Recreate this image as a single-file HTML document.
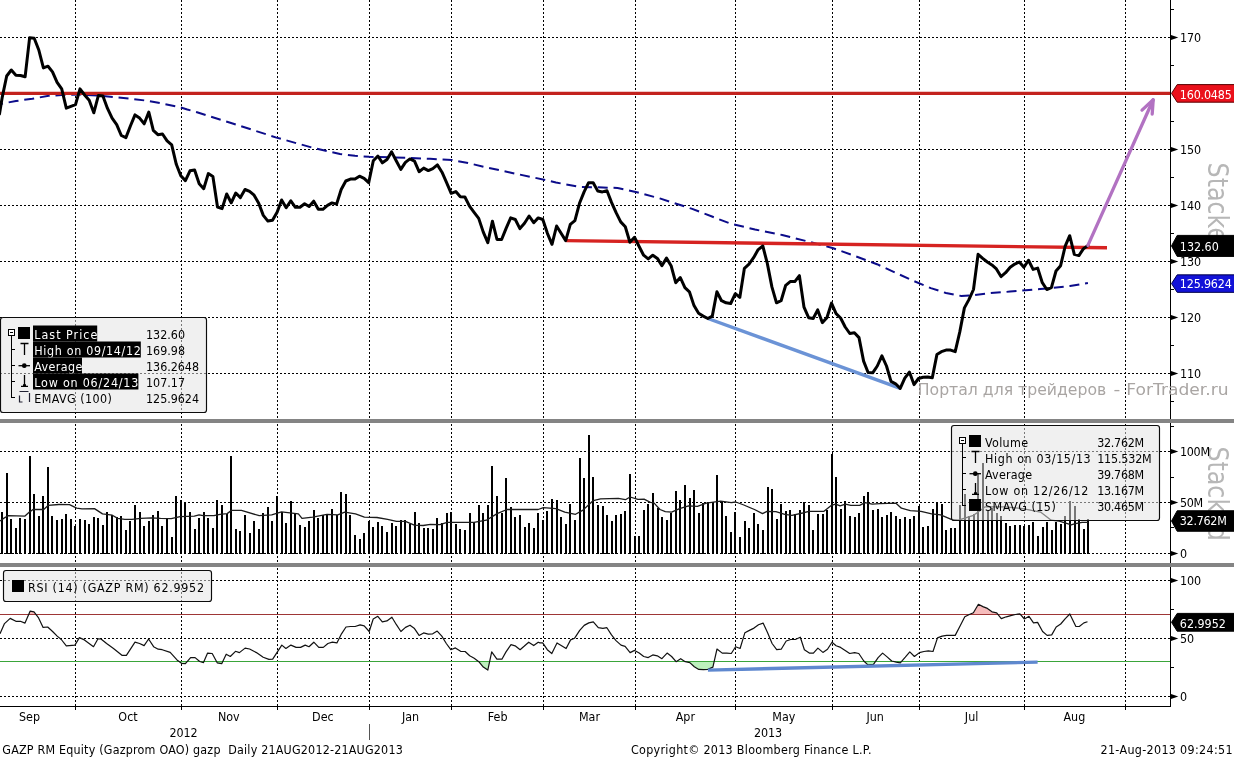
<!DOCTYPE html>
<html lang="en"><head><meta charset="utf-8"><title>GAZP RM Equity</title>
<style>html,body{margin:0;padding:0;background:#fff}body{width:1234px;height:758px;overflow:hidden}svg{display:block}text{font-family:'DejaVu Sans Condensed', 'Liberation Sans', sans-serif;white-space:pre}</style>
</head><body>
<svg width="1234" height="758" viewBox="0 0 1234 758">
<rect width="1234" height="758" fill="#fff"/>
<g stroke="#000" stroke-width="1" stroke-dasharray="2 2" shape-rendering="crispEdges">
<line x1="75.5" y1="0" x2="75.5" y2="706"/>
<line x1="181.5" y1="0" x2="181.5" y2="706"/>
<line x1="277.5" y1="0" x2="277.5" y2="706"/>
<line x1="369.5" y1="0" x2="369.5" y2="706"/>
<line x1="451.5" y1="0" x2="451.5" y2="706"/>
<line x1="543.5" y1="0" x2="543.5" y2="706"/>
<line x1="635.5" y1="0" x2="635.5" y2="706"/>
<line x1="735.5" y1="0" x2="735.5" y2="706"/>
<line x1="832.5" y1="0" x2="832.5" y2="706"/>
<line x1="919.5" y1="0" x2="919.5" y2="706"/>
<line x1="1024.5" y1="0" x2="1024.5" y2="706"/>
<line x1="1125.5" y1="0" x2="1125.5" y2="706"/>
<line x1="0" y1="37.5" x2="1170.5" y2="37.5"/>
<line x1="0" y1="149.5" x2="1170.5" y2="149.5"/>
<line x1="0" y1="205.5" x2="1170.5" y2="205.5"/>
<line x1="0" y1="261.5" x2="1170.5" y2="261.5"/>
<line x1="0" y1="317.5" x2="1170.5" y2="317.5"/>
<line x1="0" y1="373.5" x2="1170.5" y2="373.5"/>
<line x1="0" y1="451.5" x2="1170.5" y2="451.5"/>
<line x1="0" y1="502.5" x2="1170.5" y2="502.5"/>
<line x1="0" y1="553.5" x2="1170.5" y2="553.5"/>
<line x1="0" y1="580.5" x2="1170.5" y2="580.5"/>
<line x1="0" y1="638.5" x2="1170.5" y2="638.5"/>
<line x1="0" y1="696.5" x2="1170.5" y2="696.5"/>
</g>
<text transform="translate(1208.3 162.6) rotate(90)" font-size="27.5" fill="#b7b7b7" textLength="94.5" lengthAdjust="spacingAndGlyphs">Stacked</text>
<text transform="translate(1208.3 446.4) rotate(90)" font-size="27.5" fill="#b7b7b7" textLength="94.5" lengthAdjust="spacingAndGlyphs">Stacked</text>
<g fill="#000" shape-rendering="crispEdges">
<rect x="1" y="512" width="2" height="42"/>
<rect x="6" y="473" width="2" height="81"/>
<rect x="10" y="519" width="2" height="35"/>
<rect x="15" y="528" width="2" height="26"/>
<rect x="19" y="518" width="2" height="36"/>
<rect x="24" y="519" width="2" height="35"/>
<rect x="29" y="456" width="2" height="98"/>
<rect x="33" y="494" width="2" height="60"/>
<rect x="38" y="516" width="2" height="38"/>
<rect x="42" y="496" width="2" height="58"/>
<rect x="47" y="467" width="2" height="87"/>
<rect x="51" y="516" width="2" height="38"/>
<rect x="56" y="520" width="2" height="34"/>
<rect x="61" y="519" width="2" height="35"/>
<rect x="65" y="514" width="2" height="40"/>
<rect x="70" y="519" width="2" height="35"/>
<rect x="74" y="526" width="2" height="28"/>
<rect x="79" y="519" width="2" height="35"/>
<rect x="84" y="520" width="2" height="34"/>
<rect x="88" y="524" width="2" height="30"/>
<rect x="93" y="517" width="2" height="37"/>
<rect x="97" y="518" width="2" height="36"/>
<rect x="102" y="525" width="2" height="29"/>
<rect x="106" y="512" width="2" height="42"/>
<rect x="111" y="515" width="2" height="39"/>
<rect x="116" y="517" width="2" height="37"/>
<rect x="120" y="516" width="2" height="38"/>
<rect x="125" y="530" width="2" height="24"/>
<rect x="129" y="521" width="2" height="33"/>
<rect x="134" y="505" width="2" height="49"/>
<rect x="139" y="512" width="2" height="42"/>
<rect x="143" y="526" width="2" height="28"/>
<rect x="148" y="521" width="2" height="33"/>
<rect x="152" y="515" width="2" height="39"/>
<rect x="157" y="511" width="2" height="43"/>
<rect x="161" y="526" width="2" height="28"/>
<rect x="166" y="519" width="2" height="35"/>
<rect x="171" y="537" width="2" height="17"/>
<rect x="175" y="496" width="2" height="58"/>
<rect x="180" y="500" width="2" height="54"/>
<rect x="184" y="502" width="2" height="52"/>
<rect x="189" y="512" width="2" height="42"/>
<rect x="194" y="529" width="2" height="25"/>
<rect x="198" y="518" width="2" height="36"/>
<rect x="203" y="512" width="2" height="42"/>
<rect x="207" y="518" width="2" height="36"/>
<rect x="212" y="528" width="2" height="26"/>
<rect x="216" y="500" width="2" height="54"/>
<rect x="221" y="505" width="2" height="49"/>
<rect x="226" y="514" width="2" height="40"/>
<rect x="230" y="456" width="2" height="98"/>
<rect x="235" y="529" width="2" height="25"/>
<rect x="239" y="531" width="2" height="23"/>
<rect x="244" y="515" width="2" height="39"/>
<rect x="249" y="533" width="2" height="21"/>
<rect x="253" y="521" width="2" height="33"/>
<rect x="258" y="529" width="2" height="25"/>
<rect x="262" y="513" width="2" height="41"/>
<rect x="267" y="507" width="2" height="47"/>
<rect x="271" y="521" width="2" height="33"/>
<rect x="276" y="496" width="2" height="58"/>
<rect x="281" y="512" width="2" height="42"/>
<rect x="285" y="523" width="2" height="31"/>
<rect x="290" y="501" width="2" height="53"/>
<rect x="294" y="514" width="2" height="40"/>
<rect x="299" y="525" width="2" height="29"/>
<rect x="304" y="527" width="2" height="27"/>
<rect x="308" y="521" width="2" height="33"/>
<rect x="313" y="510" width="2" height="44"/>
<rect x="317" y="518" width="2" height="36"/>
<rect x="322" y="515" width="2" height="39"/>
<rect x="326" y="514" width="2" height="40"/>
<rect x="331" y="509" width="2" height="45"/>
<rect x="336" y="515" width="2" height="39"/>
<rect x="340" y="492" width="2" height="62"/>
<rect x="345" y="494" width="2" height="60"/>
<rect x="349" y="515" width="2" height="39"/>
<rect x="354" y="535" width="2" height="19"/>
<rect x="359" y="539" width="2" height="15"/>
<rect x="363" y="533" width="2" height="21"/>
<rect x="368" y="521" width="2" height="33"/>
<rect x="372" y="527" width="2" height="27"/>
<rect x="377" y="522" width="2" height="32"/>
<rect x="381" y="526" width="2" height="28"/>
<rect x="386" y="532" width="2" height="22"/>
<rect x="391" y="523" width="2" height="31"/>
<rect x="395" y="526" width="2" height="28"/>
<rect x="400" y="520" width="2" height="34"/>
<rect x="404" y="520" width="2" height="34"/>
<rect x="409" y="524" width="2" height="30"/>
<rect x="414" y="512" width="2" height="42"/>
<rect x="418" y="523" width="2" height="31"/>
<rect x="423" y="528" width="2" height="26"/>
<rect x="427" y="528" width="2" height="26"/>
<rect x="432" y="529" width="2" height="25"/>
<rect x="436" y="518" width="2" height="36"/>
<rect x="441" y="523" width="2" height="31"/>
<rect x="446" y="513" width="2" height="41"/>
<rect x="450" y="512" width="2" height="42"/>
<rect x="455" y="524" width="2" height="30"/>
<rect x="459" y="529" width="2" height="25"/>
<rect x="464" y="530" width="2" height="24"/>
<rect x="469" y="513" width="2" height="41"/>
<rect x="473" y="522" width="2" height="32"/>
<rect x="478" y="505" width="2" height="49"/>
<rect x="482" y="513" width="2" height="41"/>
<rect x="487" y="505" width="2" height="49"/>
<rect x="491" y="466" width="2" height="88"/>
<rect x="496" y="496" width="2" height="58"/>
<rect x="501" y="513" width="2" height="41"/>
<rect x="505" y="478" width="2" height="76"/>
<rect x="510" y="507" width="2" height="47"/>
<rect x="514" y="517" width="2" height="37"/>
<rect x="519" y="515" width="2" height="39"/>
<rect x="524" y="527" width="2" height="27"/>
<rect x="528" y="523" width="2" height="31"/>
<rect x="533" y="528" width="2" height="26"/>
<rect x="537" y="513" width="2" height="41"/>
<rect x="542" y="520" width="2" height="34"/>
<rect x="546" y="511" width="2" height="43"/>
<rect x="551" y="499" width="2" height="55"/>
<rect x="556" y="500" width="2" height="54"/>
<rect x="560" y="517" width="2" height="37"/>
<rect x="565" y="524" width="2" height="30"/>
<rect x="569" y="504" width="2" height="50"/>
<rect x="574" y="520" width="2" height="34"/>
<rect x="579" y="458" width="2" height="96"/>
<rect x="583" y="478" width="2" height="76"/>
<rect x="588" y="435" width="2" height="119"/>
<rect x="592" y="477" width="2" height="77"/>
<rect x="597" y="505" width="2" height="49"/>
<rect x="602" y="506" width="2" height="48"/>
<rect x="606" y="515" width="2" height="39"/>
<rect x="611" y="521" width="2" height="33"/>
<rect x="615" y="515" width="2" height="39"/>
<rect x="620" y="514" width="2" height="40"/>
<rect x="624" y="511" width="2" height="43"/>
<rect x="629" y="474" width="2" height="80"/>
<rect x="634" y="536" width="2" height="18"/>
<rect x="638" y="536" width="2" height="18"/>
<rect x="643" y="510" width="2" height="44"/>
<rect x="647" y="504" width="2" height="50"/>
<rect x="652" y="493" width="2" height="61"/>
<rect x="657" y="508" width="2" height="46"/>
<rect x="661" y="517" width="2" height="37"/>
<rect x="666" y="520" width="2" height="34"/>
<rect x="670" y="513" width="2" height="41"/>
<rect x="675" y="491" width="2" height="63"/>
<rect x="679" y="500" width="2" height="54"/>
<rect x="684" y="485" width="2" height="69"/>
<rect x="689" y="498" width="2" height="56"/>
<rect x="693" y="490" width="2" height="64"/>
<rect x="698" y="513" width="2" height="41"/>
<rect x="702" y="503" width="2" height="51"/>
<rect x="707" y="502" width="2" height="52"/>
<rect x="712" y="502" width="2" height="52"/>
<rect x="716" y="475" width="2" height="79"/>
<rect x="721" y="501" width="2" height="53"/>
<rect x="725" y="516" width="2" height="38"/>
<rect x="730" y="532" width="2" height="22"/>
<rect x="734" y="512" width="2" height="42"/>
<rect x="739" y="537" width="2" height="17"/>
<rect x="744" y="521" width="2" height="33"/>
<rect x="748" y="528" width="2" height="26"/>
<rect x="753" y="513" width="2" height="41"/>
<rect x="757" y="524" width="2" height="30"/>
<rect x="762" y="530" width="2" height="24"/>
<rect x="767" y="487" width="2" height="67"/>
<rect x="771" y="489" width="2" height="65"/>
<rect x="776" y="519" width="2" height="35"/>
<rect x="780" y="504" width="2" height="50"/>
<rect x="785" y="511" width="2" height="43"/>
<rect x="789" y="510" width="2" height="44"/>
<rect x="794" y="514" width="2" height="40"/>
<rect x="799" y="510" width="2" height="44"/>
<rect x="803" y="502" width="2" height="52"/>
<rect x="808" y="505" width="2" height="49"/>
<rect x="812" y="530" width="2" height="24"/>
<rect x="817" y="514" width="2" height="40"/>
<rect x="822" y="514" width="2" height="40"/>
<rect x="826" y="510" width="2" height="44"/>
<rect x="831" y="454" width="2" height="100"/>
<rect x="835" y="477" width="2" height="77"/>
<rect x="840" y="509" width="2" height="45"/>
<rect x="844" y="501" width="2" height="53"/>
<rect x="849" y="516" width="2" height="38"/>
<rect x="854" y="517" width="2" height="37"/>
<rect x="858" y="513" width="2" height="41"/>
<rect x="863" y="496" width="2" height="58"/>
<rect x="867" y="492" width="2" height="62"/>
<rect x="872" y="510" width="2" height="44"/>
<rect x="877" y="509" width="2" height="45"/>
<rect x="881" y="517" width="2" height="37"/>
<rect x="886" y="515" width="2" height="39"/>
<rect x="890" y="512" width="2" height="42"/>
<rect x="895" y="516" width="2" height="38"/>
<rect x="899" y="519" width="2" height="35"/>
<rect x="904" y="517" width="2" height="37"/>
<rect x="909" y="519" width="2" height="35"/>
<rect x="913" y="516" width="2" height="38"/>
<rect x="918" y="506" width="2" height="48"/>
<rect x="922" y="527" width="2" height="27"/>
<rect x="927" y="526" width="2" height="28"/>
<rect x="932" y="509" width="2" height="45"/>
<rect x="936" y="502" width="2" height="52"/>
<rect x="941" y="504" width="2" height="50"/>
<rect x="945" y="530" width="2" height="24"/>
<rect x="950" y="528" width="2" height="26"/>
<rect x="954" y="528" width="2" height="26"/>
<rect x="959" y="505" width="2" height="49"/>
<rect x="964" y="494" width="2" height="60"/>
<rect x="968" y="516" width="2" height="38"/>
<rect x="973" y="514" width="2" height="40"/>
<rect x="977" y="473" width="2" height="81"/>
<rect x="982" y="463" width="2" height="91"/>
<rect x="987" y="510" width="2" height="44"/>
<rect x="991" y="508" width="2" height="46"/>
<rect x="996" y="513" width="2" height="41"/>
<rect x="1000" y="516" width="2" height="38"/>
<rect x="1005" y="523" width="2" height="31"/>
<rect x="1009" y="526" width="2" height="28"/>
<rect x="1014" y="525" width="2" height="29"/>
<rect x="1019" y="525" width="2" height="29"/>
<rect x="1023" y="526" width="2" height="28"/>
<rect x="1028" y="525" width="2" height="29"/>
<rect x="1032" y="522" width="2" height="32"/>
<rect x="1037" y="536" width="2" height="18"/>
<rect x="1042" y="527" width="2" height="27"/>
<rect x="1046" y="522" width="2" height="32"/>
<rect x="1051" y="530" width="2" height="24"/>
<rect x="1055" y="522" width="2" height="32"/>
<rect x="1060" y="524" width="2" height="30"/>
<rect x="1064" y="516" width="2" height="38"/>
<rect x="1069" y="501" width="2" height="53"/>
<rect x="1074" y="506" width="2" height="48"/>
<rect x="1078" y="519" width="2" height="35"/>
<rect x="1083" y="529" width="2" height="25"/>
<rect x="1087" y="519" width="2" height="35"/>
</g>
<path d="M0.0 521.1 L3.6 518.4 L8.0 515.7 L25.0 516.1 L29.4 512.1 L33.0 509.5 L43.7 509.5 L48.1 505.4 L58.8 504.5 L69.5 504.7 L76.7 508.2 L82.0 508.9 L94.5 508.6 L102.5 513.9 L112.3 515.2 L117.7 518.4 L124.8 519.3 L131.9 519.3 L140.8 518.4 L151.5 517.8 L160.5 518.4 L171.2 518.7 L180.1 516.6 L194.3 516.1 L199.1 514.8 L203.2 515.7 L213.9 515.7 L220.0 514.3 L227.1 513.6 L231.6 510.4 L241.4 510.4 L259.2 515.7 L271.7 514.8 L281.5 511.8 L298.4 513.9 L302.0 518.4 L312.7 517.1 L327.0 514.3 L337.7 514.8 L344.8 512.1 L355.5 513.9 L364.4 517.1 L376.9 517.5 L387.6 519.3 L396.5 521.4 L405.4 521.4 L414.3 525.2 L423.2 525.5 L430.4 524.3 L440.0 524.6 L447.1 522.3 L473.9 522.3 L486.4 520.2 L497.1 513.6 L506.9 509.5 L538.1 509.5 L543.4 507.7 L555.9 508.6 L564.8 512.1 L575.5 514.3 L582.6 510.4 L593.3 500.6 L600.5 498.8 L618.3 498.4 L625.4 499.7 L630.1 497.0 L637.9 499.3 L644.1 499.1 L650.4 502.3 L653.9 502.9 L660.0 509.5 L665.3 511.6 L671.6 512.1 L679.6 508.6 L688.5 505.9 L697.4 506.4 L706.4 503.2 L720.6 501.1 L731.3 502.7 L735.8 502.0 L743.8 505.0 L754.5 509.5 L762.5 513.6 L767.0 511.3 L775.9 511.6 L784.8 514.3 L791.9 515.4 L802.6 513.0 L808.9 511.3 L824.0 511.3 L831.2 505.4 L835.6 504.1 L840.1 505.9 L845.4 504.1 L850.8 505.4 L859.7 505.4 L865.0 502.7 L872.2 504.1 L880.0 503.6 L896.0 503.2 L901.4 508.2 L910.3 510.7 L921.0 511.3 L931.7 513.9 L940.6 514.8 L951.3 519.3 L958.4 520.2 L972.7 515.7 L978.1 512.1 L985.2 506.8 L1004.8 506.8 L1022.6 508.6 L1040.5 512.1 L1051.2 520.2 L1059.2 521.2 L1067.4 523.6 L1071.3 524.8 L1074.3 523.9 L1082.0 522.3 L1088.1 522.3" fill="none" stroke="#1c1c1c" stroke-width="1.3" stroke-linejoin="round"/>
<polygon points="28.7,614.5 30.2,611.1 34.0,611.8 36.1,614.5" fill="#f6bcbc"/>
<polygon points="969.3,614.5 969.3,614.5 973.4,612.7 978.4,604.3 982.9,606.6 987.4,608.4 992.0,611.8 996.7,612.9 998.0,614.5" fill="#f6bcbc"/>
<polygon points="1015.3,614.5 1015.4,614.5 1019.9,613.8 1020.5,614.5" fill="#f6bcbc"/>
<polygon points="1069.4,614.5 1069.8,614.0 1070.0,614.5" fill="#f6bcbc"/>
<polygon points="179.1,661.5 181.5,663.3 185.4,663.7 187.3,661.5" fill="#bdf0bd"/>
<polygon points="199.8,661.5 203.5,662.6 204.0,661.5" fill="#bdf0bd"/>
<polygon points="216.4,661.5 217.2,662.8 221.7,663.7 222.8,661.5" fill="#bdf0bd"/>
<polygon points="478.5,661.5 478.8,661.7 483.3,667.1 487.8,670.1 489.7,661.5" fill="#bdf0bd"/>
<polygon points="676.0,661.5 676.1,661.7 676.4,661.5" fill="#bdf0bd"/>
<polygon points="684.9,661.5 685.2,661.7 689.8,662.6 694.3,666.7 698.8,669.4 703.4,669.6 707.9,669.4 712.9,667.1 714.2,661.5" fill="#bdf0bd"/>
<polygon points="864.3,661.5 867.9,664.9 873.5,664.4 875.5,661.5" fill="#bdf0bd"/>
<polygon points="893.6,661.5 896.2,662.1 900.3,662.8 901.5,661.5" fill="#bdf0bd"/>
<line x1="0" y1="614.5" x2="1170.5" y2="614.5" stroke="#9e3636" stroke-width="1" shape-rendering="crispEdges"/>
<line x1="0" y1="661.5" x2="1170.5" y2="661.5" stroke="#3aa53a" stroke-width="1" shape-rendering="crispEdges"/>
<path d="M0.0 633.8 L4.5 623.6 L10.2 618.4 L15.9 621.3 L20.4 621.3 L25.0 623.1 L30.2 611.1 L34.0 611.8 L38.6 617.9 L43.1 627.4 L47.7 627.0 L52.6 631.5 L57.2 636.1 L61.3 639.5 L66.3 645.8 L74.9 645.1 L79.4 637.6 L84.4 639.9 L93.5 646.7 L98.0 638.8 L101.0 639.0 L106.6 643.5 L113.5 648.5 L121.9 655.3 L126.4 655.3 L135.0 642.2 L139.6 643.5 L144.1 645.6 L148.6 639.0 L153.6 646.7 L158.2 649.2 L162.2 649.7 L170.2 652.4 L177.0 659.9 L181.5 663.3 L185.4 663.7 L190.6 657.6 L195.1 657.6 L199.7 661.5 L203.5 662.6 L207.6 653.1 L212.2 653.5 L217.2 662.8 L221.7 663.7 L226.2 654.2 L230.3 656.5 L235.5 651.3 L239.4 652.6 L245.1 648.1 L249.6 649.0 L256.4 652.6 L263.2 657.2 L268.9 659.4 L272.7 659.2 L281.8 645.1 L285.9 648.5 L290.9 645.1 L296.1 647.4 L300.6 647.4 L305.2 645.1 L309.0 646.7 L313.8 642.2 L318.8 647.4 L323.3 647.4 L327.9 643.5 L332.4 642.2 L336.9 642.9 L341.5 633.8 L346.0 627.0 L350.6 626.5 L355.1 626.5 L360.1 624.9 L364.2 625.8 L369.2 631.5 L373.2 619.0 L377.8 616.3 L382.3 621.8 L386.9 620.9 L391.9 617.2 L396.4 624.7 L400.9 631.5 L405.5 627.4 L410.0 625.2 L414.5 628.6 L419.1 635.4 L423.6 632.9 L428.2 634.2 L432.7 633.8 L437.2 631.1 L441.8 636.1 L446.3 643.5 L450.8 649.7 L455.4 647.9 L460.6 651.3 L465.1 651.5 L469.7 655.8 L474.2 658.3 L478.8 661.7 L483.3 667.1 L487.8 670.1 L491.7 651.9 L496.9 659.2 L501.9 659.2 L506.0 651.9 L511.0 644.7 L515.1 645.8 L520.1 649.7 L524.1 646.3 L528.7 642.2 L533.7 645.6 L538.2 642.2 L540.0 642.9 L542.7 642.9 L547.3 649.7 L551.8 653.5 L557.0 642.9 L561.6 645.8 L566.1 648.5 L570.6 639.9 L574.5 638.3 L579.7 630.4 L584.2 625.4 L588.8 622.9 L593.3 621.8 L598.3 627.7 L602.9 628.3 L606.9 627.7 L611.5 634.9 L616.0 640.6 L621.0 645.1 L625.1 646.3 L630.1 652.6 L634.6 650.4 L639.2 653.1 L643.7 656.5 L648.2 657.6 L652.8 654.9 L657.3 655.8 L661.9 658.7 L667.1 653.1 L671.6 656.5 L676.1 661.7 L680.7 658.7 L685.2 661.7 L689.8 662.6 L694.3 666.7 L698.8 669.4 L703.4 669.6 L707.9 669.4 L712.9 667.1 L717.0 649.0 L722.2 653.1 L726.7 653.1 L731.3 653.5 L735.6 646.7 L740.1 648.5 L744.9 632.7 L749.4 630.4 L754.0 628.1 L758.5 624.7 L763.1 623.1 L767.6 632.7 L772.1 643.5 L776.7 649.7 L781.2 649.2 L786.2 641.0 L790.7 639.5 L795.3 639.5 L800.3 637.2 L804.4 649.7 L809.3 653.1 L810.0 653.1 L813.4 653.1 L817.9 648.1 L822.9 652.4 L827.5 649.2 L832.0 642.2 L836.1 645.8 L840.6 647.4 L845.2 650.4 L849.7 653.5 L854.7 652.6 L858.8 653.5 L863.8 661.0 L867.9 664.9 L873.5 664.4 L878.1 657.6 L882.6 653.1 L887.1 656.9 L891.7 661.0 L896.2 662.1 L900.3 662.8 L905.3 657.2 L909.8 651.9 L914.4 656.5 L919.4 652.6 L923.9 651.5 L928.4 650.8 L933.0 651.5 L937.5 637.9 L942.1 636.1 L946.6 635.4 L951.1 635.4 L955.2 635.4 L960.2 625.8 L964.8 616.8 L969.3 614.5 L973.4 612.7 L978.4 604.3 L982.9 606.6 L987.4 608.4 L992.0 611.8 L996.7 612.9 L1001.3 618.6 L1006.3 616.8 L1010.8 615.6 L1015.4 614.5 L1019.9 613.8 L1024.4 619.0 L1029.0 616.3 L1033.5 622.9 L1037.6 622.4 L1042.6 631.5 L1047.1 635.4 L1051.7 634.9 L1056.2 627.0 L1060.7 624.0 L1065.3 618.6 L1069.8 614.0 L1075.9 626.5 L1079.3 626.5 L1083.9 622.9 L1087.5 621.8" fill="none" stroke="#111" stroke-width="1.2" stroke-linejoin="round"/>
<line x1="707.9" y1="670.1" x2="1037.6" y2="662.1" stroke="#5f88cf" stroke-width="3.4"/>
<path d="M0.0 104.0 L16.0 101.0 L32.4 98.7 L48.7 95.8 L65.0 94.8 L81.1 94.6 L97.0 95.5 L113.5 97.0 L130.0 98.6 L146.0 100.6 L162.0 103.5 L178.4 106.8 L187.3 109.5 L197.0 112.2 L231.1 123.0 L276.5 137.6 L312.2 147.6 L340.0 154.0 L355.0 155.8 L369.2 156.8 L390.0 157.2 L409.7 157.9 L430.0 158.8 L451.9 160.0 L468.0 163.0 L486.0 167.3 L510.0 172.5 L535.0 177.8 L556.0 182.5 L578.7 186.8 L598.0 187.3 L617.6 188.0 L638.0 192.5 L659.8 198.4 L692.2 208.9 L712.0 216.5 L730.0 223.5 L755.0 229.5 L782.2 235.0 L808.0 241.5 L832.5 248.0 L855.0 256.0 L877.0 264.2 L895.0 272.5 L911.4 280.0 L930.8 288.1 L946.0 293.0 L961.4 296.0 L975.0 295.0 L986.0 293.5 L1010.0 291.6 L1040.0 289.0 L1047.3 288.4 L1070.0 286.0 L1087.9 283.0" fill="none" stroke="#0c0c8a" stroke-width="2" stroke-dasharray="10 5.8" stroke-dashoffset="7" stroke-linejoin="round"/>
<line x1="0" y1="93.4" x2="1170.5" y2="93.4" stroke="#c3221d" stroke-width="3.2"/>
<line x1="566" y1="240.6" x2="1107" y2="247.8" stroke="#d62321" stroke-width="3.4"/>
<line x1="707.9" y1="318.5" x2="900.3" y2="388.4" stroke="#6b93d6" stroke-width="3.4"/>
<path d="M-0.5 114.1 L2.1 97.9 L6.7 76.0 L11.3 70.0 L15.9 75.2 L20.5 75.5 L25.1 76.8 L29.6 37.8 L34.2 38.2 L38.8 50.0 L43.4 67.9 L48.0 66.2 L52.5 71.9 L57.1 82.4 L61.7 88.9 L66.3 108.1 L70.9 106.3 L75.5 104.7 L80.0 88.9 L84.6 95.0 L89.2 100.3 L93.8 112.8 L98.4 95.4 L102.9 95.9 L107.5 108.4 L112.1 118.1 L116.7 124.6 L121.3 135.5 L125.9 137.6 L130.4 126.0 L135.0 114.9 L139.6 118.1 L144.2 123.8 L148.8 112.1 L153.3 130.3 L157.9 134.7 L162.5 134.0 L167.1 140.8 L171.7 144.9 L176.3 164.3 L180.8 175.7 L185.4 180.6 L190.0 170.8 L194.6 170.0 L199.2 183.8 L203.7 188.7 L208.3 173.6 L212.9 176.5 L217.5 207.0 L222.1 208.6 L226.7 194.0 L231.2 202.8 L235.8 193.0 L240.4 197.6 L245.0 189.5 L249.6 191.4 L254.1 195.2 L258.7 203.3 L263.3 215.4 L267.9 221.1 L272.5 220.3 L277.1 212.2 L281.6 200.0 L286.2 207.8 L290.8 200.8 L295.4 207.3 L300.0 207.3 L304.6 203.8 L309.1 206.5 L313.7 201.2 L318.3 209.3 L322.9 209.3 L327.5 205.4 L332.0 202.9 L336.6 204.1 L341.2 189.5 L345.8 181.0 L350.4 179.1 L355.0 179.1 L359.5 176.2 L364.1 178.3 L368.7 182.7 L373.3 160.8 L377.9 156.0 L382.4 162.8 L387.0 159.5 L391.6 151.9 L396.2 160.8 L400.8 169.4 L405.4 162.4 L409.9 158.9 L414.5 161.1 L419.1 171.7 L423.7 168.1 L428.3 170.6 L432.8 168.6 L437.4 164.9 L442.0 172.2 L446.6 182.7 L451.2 193.3 L455.8 191.6 L460.3 196.8 L464.9 197.0 L469.5 206.2 L474.1 212.4 L478.7 218.4 L483.2 231.9 L487.8 242.7 L492.4 221.2 L497.0 239.5 L501.6 239.5 L506.2 228.1 L510.7 217.9 L515.3 219.5 L519.9 228.6 L524.5 223.3 L529.1 216.0 L533.7 222.7 L538.2 217.9 L542.8 219.5 L547.4 233.3 L552.0 244.3 L556.6 226.0 L561.1 233.3 L565.7 240.6 L570.3 224.3 L574.9 220.6 L579.5 203.3 L584.1 191.9 L588.6 182.7 L593.2 182.7 L597.8 191.1 L602.4 191.9 L607.0 190.8 L611.5 202.4 L616.1 212.7 L620.7 221.9 L625.3 226.8 L629.9 242.2 L634.5 237.3 L639.0 246.2 L643.6 255.2 L648.2 258.9 L652.8 255.2 L657.4 258.4 L661.9 265.7 L666.5 258.1 L671.1 265.7 L675.7 282.7 L680.3 277.5 L684.9 287.7 L689.4 291.8 L694.0 305.6 L698.6 313.3 L703.2 316.1 L707.8 318.5 L712.3 316.1 L716.9 291.8 L721.5 300.7 L726.1 302.8 L730.7 303.5 L735.3 293.7 L739.8 297.4 L744.4 268.3 L749.0 264.2 L753.6 257.7 L758.2 249.6 L762.8 246.0 L767.3 263.4 L771.9 286.9 L776.5 302.8 L781.1 300.7 L785.7 285.3 L790.2 281.6 L794.8 281.6 L799.4 275.6 L804.0 307.2 L808.6 317.7 L813.2 318.5 L817.7 309.9 L822.3 322.6 L826.9 317.7 L831.5 303.1 L836.1 313.7 L840.6 318.0 L845.2 327.0 L849.8 333.5 L854.4 332.7 L859.0 337.6 L863.6 361.1 L868.1 372.5 L872.7 372.8 L877.3 366.0 L881.9 355.8 L886.5 366.0 L891.0 381.4 L895.6 383.8 L900.2 388.4 L904.8 378.1 L909.4 372.1 L914.0 384.6 L918.5 378.5 L923.1 377.3 L927.7 377.0 L932.3 377.8 L936.9 354.6 L941.4 351.7 L946.0 350.1 L950.6 350.1 L955.2 351.7 L959.8 331.9 L964.4 307.9 L968.9 299.6 L973.5 289.5 L978.1 254.3 L982.7 258.4 L987.3 262.0 L991.9 264.9 L996.4 268.9 L1001.0 276.6 L1005.6 272.7 L1010.2 267.3 L1014.8 264.1 L1019.3 262.0 L1023.9 267.3 L1028.5 260.3 L1033.1 269.4 L1037.7 268.1 L1042.3 282.7 L1046.8 289.5 L1051.4 287.6 L1056.0 271.0 L1060.6 265.7 L1065.2 246.2 L1069.7 235.7 L1074.3 254.3 L1078.9 255.6 L1083.5 248.7 L1088.1 245.4" fill="none" stroke="#000" stroke-width="3" stroke-linejoin="round" stroke-linecap="round"/>
<g stroke="#b272c2" stroke-width="3.3" fill="none" stroke-linecap="round" stroke-linejoin="round">
<path d="M1087.9 245.4 L1153.2 99.8"/><path d="M1142 110.1 L1153.2 99.8 L1152.2 114"/>
</g>
<g stroke="#000" stroke-width="1" shape-rendering="crispEdges">
<line x1="1170.5" y1="0" x2="1170.5" y2="706.5"/>
<line x1="0" y1="706.5" x2="1171.0" y2="706.5"/>
<line x1="1170.5" y1="9.5" x2="1174.0" y2="9.5"/>
<line x1="1170.5" y1="65.5" x2="1174.0" y2="65.5"/>
<line x1="1170.5" y1="121.5" x2="1174.0" y2="121.5"/>
<line x1="1170.5" y1="177.5" x2="1174.0" y2="177.5"/>
<line x1="1170.5" y1="233.5" x2="1174.0" y2="233.5"/>
<line x1="1170.5" y1="289.5" x2="1174.0" y2="289.5"/>
<line x1="1170.5" y1="345.5" x2="1174.0" y2="345.5"/>
<line x1="1170.5" y1="401.5" x2="1174.0" y2="401.5"/>
<line x1="1170.5" y1="426.5" x2="1174.0" y2="426.5"/>
<line x1="1170.5" y1="477.5" x2="1174.0" y2="477.5"/>
<line x1="1170.5" y1="527.5" x2="1174.0" y2="527.5"/>
<line x1="1170.5" y1="609.5" x2="1174.0" y2="609.5"/>
<line x1="1170.5" y1="667.5" x2="1174.0" y2="667.5"/>
<line x1="75.5" y1="706" x2="75.5" y2="710"/>
<line x1="181.5" y1="706" x2="181.5" y2="710"/>
<line x1="277.5" y1="706" x2="277.5" y2="710"/>
<line x1="369.5" y1="706" x2="369.5" y2="710"/>
<line x1="451.5" y1="706" x2="451.5" y2="710"/>
<line x1="543.5" y1="706" x2="543.5" y2="710"/>
<line x1="635.5" y1="706" x2="635.5" y2="710"/>
<line x1="735.5" y1="706" x2="735.5" y2="710"/>
<line x1="832.5" y1="706" x2="832.5" y2="710"/>
<line x1="919.5" y1="706" x2="919.5" y2="710"/>
<line x1="1024.5" y1="706" x2="1024.5" y2="710"/>
<line x1="1125.5" y1="706" x2="1125.5" y2="710"/>
</g>
<line x1="369.5" y1="724" x2="369.5" y2="740" stroke="#555" stroke-width="1" shape-rendering="crispEdges"/>
<rect x="0" y="419" width="1234" height="4" fill="#848484"/>
<rect x="0" y="563" width="1234" height="4" fill="#848484"/>
<polygon points="1171.0,34.9 1178.3,37.5 1171.0,40.1" fill="#000"/>
<text x="1180" y="42.0" font-size="12.4" fill="#000" textLength="21" lengthAdjust="spacing">170</text>
<polygon points="1171.0,146.9 1178.3,149.5 1171.0,152.1" fill="#000"/>
<text x="1180" y="154.0" font-size="12.4" fill="#000" textLength="21" lengthAdjust="spacing">150</text>
<polygon points="1171.0,202.9 1178.3,205.5 1171.0,208.1" fill="#000"/>
<text x="1180" y="210.0" font-size="12.4" fill="#000" textLength="21" lengthAdjust="spacing">140</text>
<polygon points="1171.0,258.9 1178.3,261.5 1171.0,264.1" fill="#000"/>
<text x="1180" y="266.0" font-size="12.4" fill="#000" textLength="21" lengthAdjust="spacing">130</text>
<polygon points="1171.0,314.9 1178.3,317.5 1171.0,320.1" fill="#000"/>
<text x="1180" y="322.0" font-size="12.4" fill="#000" textLength="21" lengthAdjust="spacing">120</text>
<polygon points="1171.0,370.9 1178.3,373.5 1171.0,376.1" fill="#000"/>
<text x="1180" y="378.0" font-size="12.4" fill="#000" textLength="21" lengthAdjust="spacing">110</text>
<polygon points="1171.0,448.9 1178.3,451.5 1171.0,454.1" fill="#000"/>
<text x="1180" y="456.0" font-size="12.4" fill="#000" textLength="30" lengthAdjust="spacing">100M</text>
<polygon points="1171.0,499.9 1178.3,502.5 1171.0,505.1" fill="#000"/>
<text x="1180" y="507.0" font-size="12.4" fill="#000" textLength="23" lengthAdjust="spacing">50M</text>
<polygon points="1171.0,550.9 1178.3,553.5 1171.0,556.1" fill="#000"/>
<text x="1180" y="558.0" font-size="12.4" fill="#000" textLength="7" lengthAdjust="spacing">0</text>
<polygon points="1171.0,577.9 1178.3,580.5 1171.0,583.1" fill="#000"/>
<text x="1180" y="585.0" font-size="12.4" fill="#000" textLength="21" lengthAdjust="spacing">100</text>
<polygon points="1171.0,635.9 1178.3,638.5 1171.0,641.1" fill="#000"/>
<text x="1180" y="643.0" font-size="12.4" fill="#000" textLength="14" lengthAdjust="spacing">50</text>
<polygon points="1171.0,693.9 1178.3,696.5 1171.0,699.1" fill="#000"/>
<text x="1180" y="701.0" font-size="12.4" fill="#000" textLength="7" lengthAdjust="spacing">0</text>
<polygon points="1171.5,93.4 1177.2,84.60000000000001 1236,84.60000000000001 1236,102.2 1177.2,102.2" fill="#ea111b" stroke="#5a0000" stroke-width="1" stroke-linejoin="round"/>
<text x="1179.8" y="98.7" font-size="12.4" fill="#fff" textLength="52" lengthAdjust="spacing">160.0485</text>
<polygon points="1171.5,245.9 1177.2,235.4 1236,235.4 1236,256.4 1177.2,256.4" fill="#000" stroke="#000" stroke-width="1" stroke-linejoin="round"/>
<text x="1179.8" y="250.9" font-size="12.4" fill="#fff" textLength="39" lengthAdjust="spacing">132.60</text>
<polygon points="1171.5,283.6 1177.2,274.85 1236,274.85 1236,292.35 1177.2,292.35" fill="#1212d8" stroke="#00004a" stroke-width="1" stroke-linejoin="round"/>
<text x="1179.8" y="288.3" font-size="12.4" fill="#fff" textLength="52" lengthAdjust="spacing">125.9624</text>
<polygon points="1171.5,521 1177.2,510.75 1236,510.75 1236,531.25 1177.2,531.25" fill="#000" stroke="#000" stroke-width="1" stroke-linejoin="round"/>
<text x="1179.8" y="524.9" font-size="12.4" fill="#fff" textLength="47" lengthAdjust="spacing">32.762M</text>
<polygon points="1171.5,622.3 1177.2,613.4 1236,613.4 1236,631.1999999999999 1177.2,631.1999999999999" fill="#000" stroke="#000" stroke-width="1" stroke-linejoin="round"/>
<text x="1179.8" y="627.8" font-size="12.4" fill="#fff" textLength="46" lengthAdjust="spacing">62.9952</text>
<rect x="0.5" y="317.5" width="206" height="95" rx="2.5" ry="2.5" fill="#e3e3e3" fill-opacity="0.53" stroke="#0c0c0c" stroke-width="1.15"/>
<g stroke="#000" stroke-width="1" fill="none" shape-rendering="crispEdges">
<rect x="8.5" y="329.5" width="6" height="6" fill="#fff"/><line x1="10" y1="332.5" x2="13" y2="332.5"/>
<path d="M11.5 336 V397.5 H15"/>
<line x1="11.5" y1="349.5" x2="15" y2="349.5"/>
<line x1="11.5" y1="365.5" x2="15" y2="365.5"/>
<line x1="11.5" y1="381.5" x2="15" y2="381.5"/>
</g>
<rect x="18" y="327" width="12" height="12" fill="#000"/>
<g stroke="#000" stroke-width="1.3" fill="none">
<path d="M20.5 343.5 H28.5 M24.5 343.5 V355"/>
<path d="M18.5 365.7 H30 "/><circle cx="24.3" cy="365.7" r="1.7" fill="#000"/>
<path d="M24.5 375 V386.3 M21 386.3 H28 M23 385 H26"/>
</g>
<path d="M19.5 391.5 H28.5 M19.5 395.5 V402 H22.5 M29.5 393 V402" stroke="#223" stroke-width="1.2" fill="none"/>
<rect x="33" y="325.5" width="64.2" height="16" fill="#000"/>
<text x="34.3" y="338.5" font-size="12.4" fill="#fff" textLength="63" lengthAdjust="spacing">Last Price</text>
<rect x="33" y="341.5" width="107.8" height="16" fill="#000"/>
<text x="34.3" y="354.5" font-size="12.4" fill="#fff" textLength="106.5" lengthAdjust="spacing">High on 09/14/12</text>
<rect x="33" y="357.5" width="49.0" height="16" fill="#000"/>
<text x="34.3" y="370.5" font-size="12.4" fill="#fff" textLength="48" lengthAdjust="spacing">Average</text>
<rect x="33" y="373.5" width="105.4" height="16" fill="#000"/>
<text x="34.3" y="386.5" font-size="12.4" fill="#fff" textLength="104" lengthAdjust="spacing">Low on 06/24/13</text>
<text x="34.3" y="402.5" font-size="12.4" fill="#000" textLength="77.5" lengthAdjust="spacing">EMAVG (100)</text>
<text x="146" y="338.5" font-size="12.4" fill="#000" textLength="39" lengthAdjust="spacing">132.60</text>
<text x="146" y="354.5" font-size="12.4" fill="#000" textLength="39" lengthAdjust="spacing">169.98</text>
<text x="146" y="370.5" font-size="12.4" fill="#000" textLength="53" lengthAdjust="spacing">136.2648</text>
<text x="146" y="386.5" font-size="12.4" fill="#000" textLength="39" lengthAdjust="spacing">107.17</text>
<text x="146" y="402.5" font-size="12.4" fill="#000" textLength="53" lengthAdjust="spacing">125.9624</text>
<rect x="951.5" y="425.5" width="208" height="95" rx="2.5" ry="2.5" fill="#e3e3e3" fill-opacity="0.53" stroke="#0c0c0c" stroke-width="1.15"/>
<g stroke="#000" stroke-width="1" fill="none" shape-rendering="crispEdges">
<rect x="959.5" y="437.5" width="6" height="6" fill="#fff"/><line x1="961" y1="440.5" x2="964" y2="440.5"/>
<path d="M962.5 444 V505.5 H966"/>
<line x1="962.5" y1="457.5" x2="966" y2="457.5"/>
<line x1="962.5" y1="473.5" x2="966" y2="473.5"/>
<line x1="962.5" y1="489.5" x2="966" y2="489.5"/>
</g>
<rect x="969" y="435" width="12" height="12" fill="#000"/>
<rect x="969" y="499" width="12" height="12" fill="#000"/>
<g stroke="#000" stroke-width="1.3" fill="none">
<path d="M971.5 451.5 H979.5 M975.5 451.5 V463"/>
<path d="M969.5 473.7 H981 "/><circle cx="975.3" cy="473.7" r="1.7" fill="#000"/>
<path d="M975.5 483 V494.3 M972 494.3 H979 M974 493 H977"/>
</g>
<text x="985" y="446.5" font-size="12.4" fill="#000" textLength="43" lengthAdjust="spacing">Volume</text>
<text x="985" y="462.5" font-size="12.4" fill="#000" textLength="105.7" lengthAdjust="spacing">High on 03/15/13</text>
<text x="985" y="478.5" font-size="12.4" fill="#000" textLength="47" lengthAdjust="spacing">Average</text>
<text x="985" y="494.5" font-size="12.4" fill="#000" textLength="103.3" lengthAdjust="spacing">Low on 12/26/12</text>
<text x="985" y="510.5" font-size="12.4" fill="#000" textLength="70.8" lengthAdjust="spacing">SMAVG (15)</text>
<text x="1097.2" y="446.5" font-size="12.4" fill="#000" textLength="47" lengthAdjust="spacing">32.762M</text>
<text x="1097.2" y="462.5" font-size="12.4" fill="#000" textLength="54.5" lengthAdjust="spacing">115.532M</text>
<text x="1097.2" y="478.5" font-size="12.4" fill="#000" textLength="47" lengthAdjust="spacing">39.768M</text>
<text x="1097.2" y="494.5" font-size="12.4" fill="#000" textLength="47" lengthAdjust="spacing">13.167M</text>
<text x="1097.2" y="510.5" font-size="12.4" fill="#000" textLength="47" lengthAdjust="spacing">30.465M</text>
<rect x="3.5" y="570.5" width="208" height="31" rx="2.5" ry="2.5" fill="#e3e3e3" fill-opacity="0.53" stroke="#0c0c0c" stroke-width="1.15"/>
<rect x="12" y="580" width="12" height="12" fill="#000"/>
<text x="28" y="591.5" font-size="12.4" fill="#000" textLength="176" lengthAdjust="spacing">RSI (14) (GAZP RM) 62.9952</text>
<text y="394.7" font-size="15.2" fill="#a9a5a3" style="font-family:DejaVu Sans, Liberation Sans, sans-serif"><tspan x="917.8" textLength="188.5" lengthAdjust="spacingAndGlyphs">Портал для трейдеров</tspan><tspan x="1107.5" textLength="18.8" lengthAdjust="spacingAndGlyphs"> - </tspan><tspan x="1126.3" textLength="102.3" lengthAdjust="spacingAndGlyphs">ForTrader.ru</tspan></text>
<text x="29.5" y="721.2" font-size="12.4" fill="#000" text-anchor="middle">Sep</text>
<text x="128" y="721.2" font-size="12.4" fill="#000" text-anchor="middle">Oct</text>
<text x="228.8" y="721.2" font-size="12.4" fill="#000" text-anchor="middle">Nov</text>
<text x="322.9" y="721.2" font-size="12.4" fill="#000" text-anchor="middle">Dec</text>
<text x="410.5" y="721.2" font-size="12.4" fill="#000" text-anchor="middle">Jan</text>
<text x="497.7" y="721.2" font-size="12.4" fill="#000" text-anchor="middle">Feb</text>
<text x="589.5" y="721.2" font-size="12.4" fill="#000" text-anchor="middle">Mar</text>
<text x="685.4" y="721.2" font-size="12.4" fill="#000" text-anchor="middle">Apr</text>
<text x="783.8" y="721.2" font-size="12.4" fill="#000" text-anchor="middle">May</text>
<text x="875.2" y="721.2" font-size="12.4" fill="#000" text-anchor="middle">Jun</text>
<text x="971.6" y="721.2" font-size="12.4" fill="#000" text-anchor="middle">Jul</text>
<text x="1074.4" y="721.2" font-size="12.4" fill="#000" text-anchor="middle">Aug</text>
<text x="183.6" y="737" font-size="12.4" fill="#000" text-anchor="middle" textLength="28" lengthAdjust="spacing">2012</text>
<text x="768" y="737" font-size="12.4" fill="#000" text-anchor="middle" textLength="28" lengthAdjust="spacing">2013</text>
<text x="2.3" y="753.8" font-size="12.4" fill="#000" textLength="400.5" lengthAdjust="spacing">GAZP RM Equity (Gazprom OAO) gazp  Daily 21AUG2012-21AUG2013</text>
<text x="631" y="753.8" font-size="12.4" fill="#000" textLength="240.5" lengthAdjust="spacing">Copyright© 2013 Bloomberg Finance L.P.</text>
<text x="1100.5" y="753.8" font-size="12.4" fill="#000" textLength="132" lengthAdjust="spacing">21-Aug-2013 09:24:51</text>
</svg></body></html>
